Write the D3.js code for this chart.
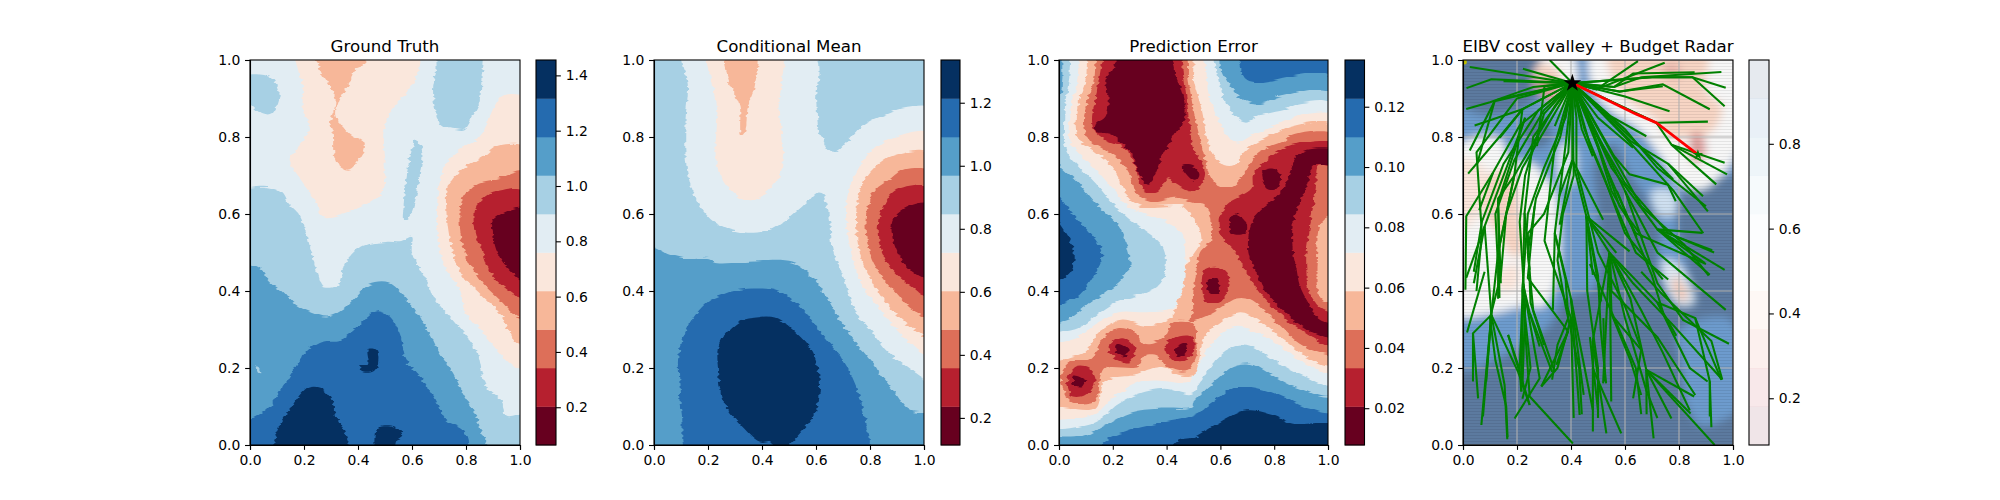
<!DOCTYPE html>
<head>
<meta charset="utf-8">
<style>
html, body { margin: 0; padding: 0; background: #fff; }
svg { display: block; }
text { font-family: "DejaVu Sans", sans-serif; fill: #000; }
.tick text { font-size: 13.9px; }
.title { font-size: 16.67px; text-anchor: middle; }
.domain { stroke-width: 1.1px; }
.tick line { stroke-width: 1.1px; }
</style>
</head>
<body>
<script src="https://d3js.org/d3.v7.min.js"></script>
<script>
// ---- data: each entry is [colour band, outline in axis units], painted in order
var unitTicks = [0, 0.2, 0.4, 0.6, 0.8, 1.0];

var truthBase = 5;
var truthBands = [
  [6, [[0,.655],[.11,.66],[.14,.63],[.18,.6],[.2,.57],[.22,.52],[.24,.47],[.25,.44],[.27,.41],[.32,.41],[.35,.47],[.37,.49],[.42,.52],[.5,.53],[.56,.53],[.6,.54],[.6,.5],[.66,.42],[.678,.386],[.75,.325],[.838,.247],[.875,.152],[.93,.117],[.95,.074],[1,.078],[1,0],[0,0]]],
  [6, [[.616,.794],[.638,.759],[.628,.698],[.616,.646],[.591,.594],[.569,.585],[.569,.62],[.579,.69],[.591,.742]]],
  [6, [[.7,1],[.857,1],[.857,.95],[.85,.89],[.826,.855],[.795,.82],[.764,.82],[.709,.829],[.688,.863],[.678,.924],[.69,.975]]],
  [6, [[0,.958],[.073,.958],[.11,.91],[.08,.859],[.048,.859],[0,.915]]],
  [7, [[0,.46],[.03,.46],[.073,.425],[.122,.399],[.17,.364],[.233,.343],[.289,.334],[.344,.352],[.393,.386],[.443,.416],[.517,.42],[.566,.39],[.616,.343],[.665,.291],[.702,.239],[.752,.187],[.789,.135],[.826,.092],[.863,.022],[.879,0],[0,0]]],
  [6, [[.024,.21],[.042,.19],[.03,.19]]],
  [8, [[0,.056],[.023,.074],[.073,.1],[.122,.152],[.17,.204],[.215,.247],[.27,.269],[.332,.273],[.394,.304],[.468,.347],[.517,.334],[.554,.291],[.579,.221],[.628,.178],[.678,.126],[.727,.065],[.789,.039],[.801,0],[0,0]]],
  [9, [[.091,0],[.11,.048],[.147,.091],[.184,.13],[.215,.149],[.258,.149],[.295,.126],[.32,.074],[.357,.022],[.369,0]]],
  [9, [[.468,.035],[.48,.048],[.536,.048],[.564,.026],[.542,.011],[.53,0],[.474,0]]],
  [9, [[.437,.25],[.468,.25],[.474,.212],[.456,.191],[.412,.191],[.406,.208],[.437,.212]]],
  [4, [[.172,1],[.622,1],[.622,.967],[.579,.915],[.517,.863],[.493,.803],[.499,.716],[.486,.655],[.443,.629],[.357,.603],[.27,.594],[.246,.629],[.196,.681],[.147,.742],[.172,.768],[.209,.803],[.221,.829],[.196,.872],[.196,.933],[.178,.975]]],
  [3, [[.246,1],[.431,1],[.425,.988],[.388,.975],[.369,.94],[.332,.898],[.32,.855],[.369,.807],[.419,.785],[.419,.763],[.394,.733],[.369,.716],[.338,.72],[.315,.75],[.309,.81],[.295,.828],[.32,.889],[.295,.933],[.259,.975]]],
  [4, [[1,.894],[.938,.908],[.9,.872],[.875,.829],[.838,.794],[.764,.759],[.72,.724],[.696,.646],[.696,.542],[.72,.464],[.777,.403],[.801,.343],[.863,.291],[.925,.239],[.987,.2],[1,.2]]],
  [3, [[1,.768],[.925,.778],[.863,.75],[.789,.716],[.733,.672],[.727,.612],[.752,.499],[.789,.438],[.863,.386],[.925,.343],[.987,.265],[1,.26]]],
  [2, [[1,.707],[.912,.69],[.851,.681],[.801,.655],[.777,.612],[.789,.516],[.814,.473],[.863,.42],[.925,.377],[.987,.334],[1,.331]]],
  [1, [[1,.657],[.9,.655],[.832,.612],[.832,.568],[.863,.499],[.9,.438],[.962,.399],[1,.373]]],
  [0, [[1,.614],[.9,.585],[.9,.551],[.912,.507],[.949,.464],[1,.422]]]
];

var meanBase = 6;
var meanBands = [
  [5, [[.107,1],[.126,.932],[.117,.846],[.122,.716],[.157,.637],[.219,.581],[.305,.555],[.41,.555],[.49,.585],[.564,.629],[.601,.655],[.626,.65],[.651,.585],[.663,.507],[.7,.438],[.749,.343],[.811,.291],[.873,.239],[.935,.204],[1,.169],[1,.872],[.935,.876],[.86,.859],[.77,.828],[.663,.759],[.614,.811],[.601,.889],[.589,1]]],
  [4, [[.2,1],[.472,1],[.465,.889],[.478,.759],[.465,.698],[.416,.655],[.354,.633],[.293,.655],[.243,.707],[.228,.759],[.233,.846],[.219,.932]]],
  [3, [[.262,1],[.379,1],[.373,.932],[.348,.88],[.336,.811],[.323,.807],[.317,.88],[.28,.941]]],
  [4, [[1,.807],[.898,.802],[.823,.776],[.762,.724],[.719,.655],[.712,.585],[.737,.481],[.774,.412],[.848,.343],[.91,.291],[1,.23]]],
  [3, [[1,.757],[.898,.755],[.836,.733],[.774,.681],[.749,.603],[.762,.499],[.799,.438],[.86,.369],[.935,.317],[1,.282]]],
  [2, [[1,.707],[.928,.716],[.873,.69],[.811,.655],[.784,.585],[.799,.499],[.836,.447],[.898,.395],[.959,.351],[1,.331]]],
  [1, [[1,.666],[.898,.663],[.848,.62],[.83,.577],[.836,.516],[.873,.464],[.935,.421],[1,.382]]],
  [0, [[1,.624],[.947,.62],[.885,.585],[.885,.533],[.91,.49],[.947,.455],[1,.431]]],
  [7, [[0,.516],[.058,.494],[.107,.486],[.212,.484],[.225,.474],[.509,.474],[.589,.434],[.638,.386],[.688,.325],[.749,.265],[.811,.212],[.885,.143],[.947,.091],[1,.078],[1,0],[0,0]]],
  [8, [[.126,0],[.105,.065],[.095,.152],[.095,.239],[.126,.308],[.194,.369],[.256,.39],[.317,.403],[.441,.403],[.502,.382],[.564,.343],[.626,.282],[.7,.221],[.749,.152],[.774,.091],[.786,0]]],
  [9, [[.391,.009],[.317,.056],[.256,.117],[.237,.195],[.243,.265],[.317,.321],[.379,.331],[.447,.331],[.527,.291],[.589,.239],[.614,.169],[.601,.091],[.54,.03],[.453,0],[.428,.009]]]
];

var errorBase = 8;
var errorBands = [
  [9, [[0,.594],[.04,.533],[.058,.499],[.046,.455],[0,.421]]],
  [9, [[.42,0],[.44,.01],[.5,.021],[.599,.06],[.698,.09],[.796,.077],[.87,.055],[1,.051],[1,0]]],
  [7, [[0,1],[.648,1],[.7,.948],[1,.948],[1,.09],[.932,.094],[.846,.12],[.747,.146],[.654,.15],[.574,.111],[.5,.077],[.37,.055],[.284,.042],[.173,.012],[.123,0],[0,0],[0,.34],[.074,.388],[.136,.448],[.16,.5],[0,.689]]],
  [6, [[.031,1],[.586,1],[.605,.974],[.642,.927],[.698,.892],[.753,.888],[.821,.905],[1,.909],[1,.133],[.895,.146],[.796,.18],[.71,.211],[.636,.202],[.605,.18],[.549,.146],[.5,.111],[.494,.098],[.37,.094],[.272,.085],[.173,.051],[.086,.021],[0,.03],[0,.301],[.049,.332],[.111,.366],[.173,.396],[.235,.431],[.265,.466],[.259,.5],[.222,.568],[.148,.62],[.074,.68],[0,.758],[0,.88],[.006,.914],[.012,.948]]],
  [5, [[.062,1],[.556,1],[.599,.931],[.636,.87],[.691,.84],[.747,.857],[.833,.87],[.907,.888],[1,.879],[1,.159],[.907,.18],[.809,.215],[.71,.258],[.66,.258],[.586,.224],[.525,.163],[.494,.133],[.395,.146],[.296,.133],[.21,.103],[.148,.064],[.074,.047],[0,.051],[0,.28],[.074,.306],[.136,.336],[.21,.37],[.309,.392],[.37,.414],[.395,.457],[.393,.5],[.37,.529],[.278,.577],[.204,.624],[.136,.68],[.074,.724],[.025,.767],[.019,.836],[.025,.896],[.037,.948]]],
  [4, [[.093,1],[.519,1],[.556,.914],[.586,.853],[.623,.81],[.66,.786],[.722,.806],[.784,.823],[.852,.845],[.92,.862],[1,.853],[1,.19],[.932,.206],[.833,.25],[.722,.297],[.648,.306],[.562,.258],[.52,.21],[.48,.165],[.395,.168],[.321,.168],[.21,.129],[.136,.081],[.062,.068],[0,.072],[0,.25],[.074,.284],[.148,.319],[.222,.345],[.321,.345],[.42,.353],[.457,.396],[.469,.448],[.469,.5],[.457,.551],[.383,.585],[.265,.616],[.216,.65],[.16,.698],[.099,.741],[.043,.784],[.037,.836],[.049,.896],[.068,.948]]],
  [3, [[.123,1],[.486,1],[.5,.948],[.531,.87],[.549,.801],[.574,.75],[.617,.725],[.654,.725],[.679,.754],[.722,.78],[.796,.806],[.846,.823],[1,.827],[1,.211],[.932,.224],[.846,.267],[.735,.327],[.673,.345],[.586,.314],[.537,.275],[.52,.22],[.5,.18],[.444,.18],[.383,.202],[.321,.193],[.296,.185],[.173,.168],[.136,.094],[.037,.094],[0,.11],[0,.206],[.025,.224],[.099,.245],[.148,.293],[.235,.323],[.333,.31],[.426,.336],[.436,.36],[.461,.403],[.473,.464],[.529,.533],[.51,.577],[.461,.62],[.407,.62],[.309,.62],[.253,.646],[.222,.693],[.185,.732],[.123,.767],[.074,.793],[.062,.836],[.074,.896],[.099,.948]]],
  [2, [[.154,1],[.463,1],[.481,.948],[.5,.87],[.525,.793],[.543,.741],[.562,.698],[.593,.672],[.63,.668],[.66,.68],[.698,.715],[.728,.75],[.772,.771],[.833,.788],[.87,.806],[1,.806],[1,.616],[.97,.57],[.96,.5],[.96,.41],[.975,.38],[1,.36],[1,.237],[.907,.258],[.809,.319],[.71,.379],[.66,.383],[.574,.345],[.486,.321],[.498,.343],[.498,.386],[.51,.447],[.523,.499],[.566,.533],[.566,.568],[.545,.62],[.5,.629],[.432,.642],[.346,.633],[.284,.655],[.265,.698],[.222,.741],[.16,.771],[.111,.793],[.093,.836],[.105,.896],[.13,.948]]],
  [2, [[.51,.27],[.5,.315],[.426,.319],[.383,.275],[.315,.263],[.278,.297],[.222,.306],[.167,.28],[.117,.224],[.043,.215],[.006,.18],[.019,.142],[.049,.113],[.136,.116],[.154,.18],[.173,.202],[.296,.206],[.315,.232],[.364,.232],[.401,.202],[.475,.193],[.51,.23]]],
  [1, [[.185,1],[.148,.948],[.136,.896],[.123,.853],[.13,.819],[.173,.793],[.235,.775],[.278,.732],[.302,.68],[.321,.659],[.37,.659],[.407,.693],[.432,.68],[.5,.659],[.531,.68],[.543,.706],[.525,.741],[.5,.767],[.494,.784],[.475,.896],[.463,.957],[.438,1]]],
  [1, [[1,.786],[.87,.78],[.796,.754],[.759,.732],[.722,.702],[.716,.667],[.636,.633],[.611,.616],[.593,.577],[.611,.534],[.654,.5],[.704,.44],[.753,.388],[.809,.349],[.895,.301],[1,.256],[1,.332],[.963,.362],[.926,.405],[.92,.448],[.92,.5],[.932,.56],[.944,.62],[.957,.68],[.963,.725],[1,.72]]],
  [1, [[.531,.422],[.543,.457],[.586,.465],[.63,.44],[.63,.405],[.593,.37],[.549,.37]]],
  [1, [[.031,.172],[.062,.202],[.111,.198],[.136,.168],[.099,.129],[.049,.129]]],
  [1, [[.185,.254],[.235,.28],[.284,.25],[.259,.215],[.204,.228]]],
  [1, [[.395,.25],[.432,.28],[.494,.284],[.5,.241],[.444,.215]]],
  [0, [[.235,1],[.401,1],[.432,.965],[.457,.914],[.469,.853],[.42,.797],[.383,.75],[.358,.706],[.333,.676],[.302,.698],[.265,.758],[.198,.806],[.136,.814],[.136,.832],[.173,.853],[.185,.896],[.173,.948],[.204,.978]]],
  [0, [[.883,.75],[.92,.767],[1,.763],[1,.728],[.944,.724],[.926,.68],[.895,.629],[.87,.577],[.87,.5],[.883,.457],[.895,.414],[.926,.37],[.969,.327],[1,.306],[1,.274],[.957,.288],[.883,.319],[.821,.358],[.759,.405],[.735,.448],[.704,.5],[.722,.585],[.821,.654],[.858,.706]]],
  [0, [[.753,.706],[.796,.715],[.821,.698],[.809,.668],[.772,.668]]],
  [0, [[.63,.577],[.654,.601],[.698,.573],[.691,.547],[.648,.547]]],
  [0, [[.556,.427],[.586,.433],[.596,.396],[.562,.396],[.549,.414]]],
  [0, [[.457,.724],[.5,.724],[.522,.703],[.512,.688],[.5,.687],[.475,.702]]],
  [0, [[.056,.18],[.099,.168],[.086,.15],[.056,.155]]],
  [0, [[.216,.263],[.259,.245],[.241,.228],[.21,.245]]],
  [0, [[.432,.25],[.469,.263],[.475,.245],[.444,.228]]]
];

// cost valley background, soft patches over a dark slate ground
var valleyGround = "#5c7a9f";
var valleyPatches = [
  ["#6d9bcd", [[0,.2],[.12,.22],[.22,.26],[.32,.31],[.38,.38],[.49,.41],[.5,.6],[.49,.74],[.56,.78],[.62,.7],[.68,.64],[.73,.56],[.72,.48],[.78,.37],[.84,.38],[.82,.5],[.79,.58],[.82,.66],[.9,.69],[1,.71],[1,1],[0,1]]],
  ["#6d9bcd", [[.8,.3],[.98,.33],[1,.27],[1,.1],[.95,.06],[.88,.05],[.83,.1],[.81,.2]]],
  ["#5c7a9f", [[0,1],[.27,1],[.3,.94],[.24,.88],[.15,.86],[.05,.86],[0,.9]]],
  ["#5c7a9f", [[.24,.85],[.3,.85],[.33,.8],[.28,.77],[.22,.8]]],
  ["#f7f7f7", [[0,.77],[.13,.8],[.18,.74],[.26,.73],[.3,.7],[.34,.66],[.36,.56],[.35,.44],[.3,.36],[.22,.36],[.1,.34],[0,.34]]],
  ["#f7f7f7", [[.48,1],[1,1],[1,.79],[.96,.7],[.88,.66],[.8,.68],[.74,.74],[.65,.82],[.56,.86],[.5,.9],[.47,.95]]],
  ["#f7f7f7", [[.3,1],[.4,1],[.42,.93],[.36,.88],[.3,.9]]],
  ["#dbe7f2", [[.36,.78],[.41,.78],[.41,.68],[.36,.68]]],
  ["#cfe0f0", [[.7,.66],[.78,.66],[.79,.6],[.72,.6]]],
  ["#dbe7f2", [[.74,.48],[.8,.47],[.86,.37],[.8,.36],[.74,.43]]],
  ["#f7d5c4", [[.54,1],[.9,1],[.9,.92],[.96,.88],[.93,.82],[.88,.8],[.82,.8],[.76,.8],[.72,.84],[.66,.87],[.6,.9],[.56,.94]]],
  ["#f7d5c4", [[.07,.66],[.1,.7],[.16,.72],[.2,.68],[.21,.6],[.22,.5],[.18,.49],[.13,.55],[.09,.58]]],
  ["#fbe6dc", [[0,.74],[.08,.72],[.06,.6],[0,.55]]],
  ["#fbe6dc", [[.13,.45],[.2,.47],[.2,.41],[.14,.4]]],
  ["#f7d5c4", [[.28,.99],[.36,.97],[.34,.9],[.28,.92],[.26,.95]]],
  ["#dd9e9c", [[.28,.95],[.33,.95],[.36,.9],[.32,.89],[.28,.92]]],
  ["#dd9e9c", [[.85,.81],[.88,.81],[.9,.76],[.86,.73],[.84,.76]]],
  ["#eab7ad", [[.75,.99],[.8,.99],[.8,.95],[.74,.96]]],
  ["#f3c9b8", [[.78,.44],[.83,.4],[.82,.37],[.78,.4]]]
];

var start = [.405, .94];
var goal = [.87, .754];
var chosenRoute = [start, [.64,.86], [.716,.837], goal];
var n1 = [.494,.924], n2 = [.56,.93], n3 = [.58,.918], n4 = [.7,.955], n5 = [.85,.955];
var n6 = [.716,.837], n7 = [.772,.78], n8 = [.76,.73], n9 = [.72,.56], n10 = [.6,.66];
var t1 = [.405,.74], t2 = [.457,.594], t3 = [.543,.499], t4 = [.679,.195], t5 = [.72,.37], t6 = [.86,.33];
var l1 = [.22,.872], l2 = [.19,.7], l3 = [.111,.707], l4 = [.012,.594], l5 = [.08,.568], l6 = [.105,.338], l7 = [.037,.29];
var m1 = [.228,.603], m2 = [.222,.42], m3 = [.24,.434], m4 = [.389,.295], m5 = [.247,.343];
var c1 = [.34,.55], c2 = [.4,.38], c3 = [.302,.53], c4 = [.4,.33];
var treeRoutes = [
  [start,n1,[.648,.997]], [start,n1,[.747,.993]], [start,n2,[.63,.965],[.858,.968]], [start,n2,[.66,.955],[.957,.969]],
  [start,n3,[.74,.937],[.914,.872]], [start,[.6,.905],[.765,.867]], [start,n3,[.74,.932]], [start,n4,n5,[.973,.928]], [start,n4,n5,[.969,.88]],
  [start,[.545,.855],[.679,.802]], [start,[.5,.85],[.63,.772]], [start,[.44,.82],[.481,.75]],
  [start,n6,[.907,.84]], [start,n6,n7,[.969,.733]], [n7,[.978,.703]], [n7,[.938,.677]],
  [start,[.62,.79],n8,[.889,.646]], [n8,[.907,.607]], [start,[.65,.78],[.778,.69]],
  [start,[.56,.75],[.617,.703],[.759,.676],[.788,.633]],
  [start,[.55,.72],n9,[.969,.455]], [n9,[.923,.506]], [n9,[.914,.442]], [n9,[.895,.473]], [n9,[.886,.551]],
  [start,n10,[.72,.5],[.973,.351]], [n10,[.72,.42],[.815,.325],[.985,.263]],
  [start,[.5,.78],[.58,.62],[.667,.538]], [start,[.53,.72],[.643,.54]], [[.57,.66],[.7,.44],[.741,.344]],
  [start,t1,t2,[.617,.503]], [t2,[.568,.499]], [t2,[.481,.442]], [t2,[.512,.373]], [t2,t3],
  [t1,[.519,.585]], [t1,[.358,.572]], [t1,[.356,.646]],
  [t3,[.481,.273],[.481,.035]], [t3,[.519,.16]], [t3,[.549,.113]], [t3,t5,[.79,.284]], [t3,[.62,.38],t4],
  [t4,[.706,.017]], [t4,[.772,.069]], [t4,[.843,.082]], [t4,[.856,.126]], [t4,[.68,.08]], [t4,[.932,0]],
  [t5,t6,[.957,.169]], [t6,[.914,.165],[.914,.074]], [[.914,.165],[.92,.046]], [t5,[.84,.2],[.906,.165]],
  [start,[.38,.78],c1,c2,[.447,.13]], [c1,[.333,.351]], [c2,[.432,.078]], [c2,[.481,.091]],
  [start,[.34,.78],c3,c4,[.35,.2],[.29,.152]], [c4,[.41,.07]],
  [[.52,.33],[.525,.165]], [[.47,.47],[.56,.33],[.66,.247],[.63,.121]], [[.56,.33],[.64,.2],[.66,.08]], [[.48,.27],[.531,.03]], [[.48,.2],[.586,.03]], [[.47,.28],[.5,.09]],
  [start,l1,l2,[.13,.64],[.135,.382]], [l2,[.13,.5],l6], [l1,[.148,.811],[.019,.705]],
  [start,[.21,.83],l3,l4,[.009,.403]], [l3,[.06,.61]],
  [[.23,.85],[.13,.63],[.14,.42]], [[.23,.85],l5,[.012,.434]], [l5,[.04,.42]], [l5,l6], [[.08,.45],[.015,.292]],
  [l6,l7,[.056,.121]], [l7,[.037,.165]], [l6,[.086,.165]], [l6,[.068,.052]], [l6,[.074,.074]], [l6,[.154,.156],[.164,.015]], [l6,[.204,.19],[.247,.104]],
  [start,[.26,.8],m1,m2], [m1,[.247,.455]], [[.265,.62],m3,m4,[.346,.208]], [m2,m5,[.284,.256]], [m5,[.33,.19]], [m4,[.29,.152]], [m2,[.216,.139]], [m2,[.21,.195]],
  [[.167,.286],[.21,.195],[.216,.139]], [[.167,.286],[.247,.104]], [m2,[.284,.173],[.191,.069]], [[.222,.38],[.247,.126],[.407,.004]],
  [start,[.105,.95],[.013,.927]], [start,[.025,.982]], [start,[.222,.977]], [start,[.321,1]], [start,[.15,.945]],
  [start,[.26,.93],[.1,.89],[.012,.873]], [start,[.128,.897]], [start,l1,[.043,.83]], [l1,[.136,.798]],
  [start,[.117,.893],[.025,.765]], [[.117,.893],[.052,.729]], [start,[.302,.932],[.274,.776]], [start,[.34,.828]],
  // second pass over the denser parts of the fan
  [start,[.5,.8],[.6,.68],[.76,.55],[.93,.5]], [start,[.48,.82],[.55,.66],[.64,.55],[.9,.47]], [start,[.47,.78],[.56,.63],[.64,.5],[.76,.43]],
  [start,[.45,.82],[.52,.7],[.6,.55],[.74,.43]], [start,[.5,.82],[.66,.62],[.82,.52],[.91,.44]], [start,[.6,.82],[.72,.72],[.9,.62]], [start,[.6,.8],[.78,.66],[.89,.55]],
  [start,[.42,.85],[.42,.72],[.5,.5],[.6,.36],[.66,.25]], [t2,[.5,.44],[.51,.3],[.53,.16]], [t2,[.46,.4],[.5,.2],[.5,.07]],
  [t3,[.6,.33],[.68,.14],[.72,.07]], [t3,[.55,.34],[.62,.22],[.66,.13]], [t3,[.55,.4],[.72,.28],[.86,.13]], [t3,[.66,.35],[.74,.24],[.84,.09]], [t3,[.63,.42],[.78,.31],[.96,.17]], [[.66,.45],[.74,.39],[.92,.27],[.96,.17]],
  [start,[.41,.7],[.37,.6],[.35,.48],[.38,.36],[.43,.2],[.44,.08]], [start,[.39,.76],[.3,.6],[.24,.55],[.25,.37],[.3,.26]], [start,[.36,.8],[.27,.64],[.24,.5],[.26,.35],[.34,.19]],
  [start,[.33,.85],[.22,.72],[.16,.6],[.14,.44],[.1,.33]], [start,[.3,.87],[.19,.74],[.12,.6],[.13,.46]], [start,[.28,.87],[.15,.73],[.07,.58],[.04,.45]], [start,[.2,.9],[.05,.76],[.07,.55],[.05,.4]],
  [start,[.38,.85],[.3,.72],[.24,.6],[.22,.4],[.25,.2],[.22,.12]], [start,[.34,.88],[.19,.7],[.13,.5],[.13,.38]], [start,[.3,.86],[.23,.7],[.21,.58],[.23,.36],[.22,.15]],
  [[.34,.55],[.38,.43],[.39,.33],[.35,.26],[.33,.17]], [[.1,.33],[.12,.22],[.16,.1],[.165,.02]]
];

var columns = [
  {left: 250, right: 520, barLeft: 536, barRight: 556, title: "Ground Truth", bar: [0.0635, 1.4556], ticks: [.2,.4,.6,.8,1,1.2,1.4], fmt: ".1f", base: truthBase, bands: truthBands},
  {left: 654, right: 924, barLeft: 941, barRight: 960, title: "Conditional Mean", bar: [0.114, 1.3356], ticks: [.2,.4,.6,.8,1,1.2], fmt: ".1f", base: meanBase, bands: meanBands},
  {left: 1059, right: 1328, barLeft: 1345, barRight: 1364.5, title: "Prediction Error", bar: [0.0078, 0.1355], ticks: [.02,.04,.06,.08,.1,.12], fmt: ".2f", base: errorBase, bands: errorBands},
  {left: 1463, right: 1733, barLeft: 1749, barRight: 1769, title: "EIBV cost valley + Budget Radar", bar: [0.0898, 0.9976], ticks: [.2,.4,.6,.8], fmt: ".1f", barAlpha: 0.1}
];

// ---- drawing
var yTop = 60, yBottom = 445;
var svg = d3.select("body").append("svg").attr("width", 2000).attr("height", 500);
var defs = svg.append("defs");

var rdbu = d3.piecewise(d3.interpolateRgb, ["#67001f","#b2182b","#d6604d","#f4a582","#fddbc7","#f7f7f7","#d1e5f0","#92c5de","#4393c3","#2166ac","#053061"]);
var bandColour = function(i) { return rdbu(i / 9); };

var stripes = defs.append("pattern").attr("id", "rows").attr("width", 3).attr("height", 3).attr("patternUnits", "userSpaceOnUse");
stripes.append("rect").attr("width", 3).attr("height", 1).attr("fill", "#000").attr("opacity", 0.08);

defs.append("filter").attr("id", "soft").attr("x", "-10%").attr("y", "-10%").attr("width", "120%").attr("height", "120%")
  .append("feGaussianBlur").attr("stdDeviation", 4);

// the original contours have toothed edges, a row-wise wobble gets close to that
var teeth = defs.append("filter").attr("id", "teeth").attr("x", "-5%").attr("y", "-5%").attr("width", "110%").attr("height", "110%")
  .attr("color-interpolation-filters", "sRGB");
teeth.append("feTurbulence").attr("type", "fractalNoise").attr("baseFrequency", "0.02 0.33").attr("numOctaves", 1).attr("seed", 4).attr("result", "noise");
teeth.append("feDisplacementMap").attr("in", "SourceGraphic").attr("in2", "noise").attr("scale", 7)
  .attr("xChannelSelector", "R").attr("yChannelSelector", "G");

columns.forEach(function(col, k) {
  var x = d3.scaleLinear().domain([0, 1]).range([col.left, col.right]);
  var y = d3.scaleLinear().domain([0, 1]).range([yBottom, yTop]);
  var outline = d3.line().x(function(d) { return x(d[0]); }).y(function(d) { return y(d[1]); });
  // closed smooth outline, points on the frame pushed a little past it so the wobble shows no gap
  var over = function(t) { return t <= 0 ? -8 : t >= 1 ? 8 : 0; };
  var smooth = d3.line()
    .x(function(d) { return x(d[0]) + over(d[0]); })
    .y(function(d) { return y(d[1]) - over(d[1]); })
    .curve(d3.curveCatmullRomClosed.alpha(0.5));
  var w = col.right - col.left, h = yBottom - yTop;

  defs.append("clipPath").attr("id", "clip" + k).append("rect").attr("x", col.left).attr("y", yTop).attr("width", w).attr("height", h);
  var g = svg.append("g").attr("clip-path", "url(#clip" + k + ")");

  if (col.bands) {
    g.append("rect").attr("x", col.left).attr("y", yTop).attr("width", w).attr("height", h).attr("fill", bandColour(col.base));
    g.append("g").attr("filter", "url(#teeth)")
      .selectAll("path.band").data(col.bands).enter().append("path")
      .attr("class", "band")
      .attr("d", smooth)
      .attr("d", function(d) { return smooth(d[1]); })
      .attr("fill", function(d) { return bandColour(d[0]); });
  } else {
    g.append("rect").attr("x", col.left).attr("y", yTop).attr("width", w).attr("height", h).attr("fill", valleyGround);
    var soft = g.append("g").attr("filter", "url(#soft)");
    soft.selectAll("path").data(valleyPatches).enter().append("path")
      .attr("d", function(d) { return smooth(d[1]); })
      .attr("fill", function(d) { return d[0]; });
    g.append("rect").attr("x", col.left).attr("y", yTop).attr("width", w).attr("height", h).attr("fill", "url(#rows)");

    var grid = g.append("g").attr("stroke", "#b0b0b0").attr("stroke-width", 1.1);
    unitTicks.forEach(function(t) {
      grid.append("line").attr("x1", x(t)).attr("x2", x(t)).attr("y1", yTop).attr("y2", yBottom);
      grid.append("line").attr("x1", col.left).attr("x2", col.right).attr("y1", y(t)).attr("y2", y(t));
    });

    g.selectAll("path.route").data(treeRoutes).enter().append("path")
      .attr("class", "route")
      .attr("d", outline)
      .attr("fill", "none").attr("stroke", "#008000").attr("stroke-width", 2.08);
    g.append("path").datum(chosenRoute).attr("d", outline)
      .attr("fill", "none").attr("stroke", "#ff0000").attr("stroke-width", 2.78);
    g.append("path").attr("d", d3.symbol(d3.symbolStar, 34)())
      .attr("transform", "translate(" + x(goal[0]) + "," + y(goal[1]) + ")").attr("fill", "#008000");
    g.append("path").attr("d", d3.symbol(d3.symbolStar, 100)())
      .attr("transform", "translate(" + x(start[0]) + "," + y(start[1]) + ")").attr("fill", "#000");
    g.append("circle").attr("cx", x(0.005)).attr("cy", y(0.995)).attr("r", 2.5).attr("fill", "#bfbf00");
  }

  svg.append("rect").attr("x", col.left).attr("y", yTop).attr("width", w).attr("height", h)
    .attr("fill", "none").attr("stroke", "#000").attr("stroke-width", 1.1);

  svg.append("g").attr("transform", "translate(0," + yBottom + ")")
    .call(d3.axisBottom(x).tickValues(unitTicks).tickFormat(d3.format(".1f")).tickSize(4.86).tickPadding(4.86));
  svg.append("g").attr("transform", "translate(" + col.left + ",0)")
    .call(d3.axisLeft(y).tickValues(unitTicks).tickFormat(d3.format(".1f")).tickSize(4.86).tickPadding(4.86));

  svg.append("text").attr("class", "title").attr("x", (col.left + col.right) / 2).attr("y", 52).text(col.title);

  // colour bar, ten equal bands
  var by = d3.scaleLinear().domain(col.bar).range([yBottom, yTop]);
  var step = (col.bar[1] - col.bar[0]) / 10;
  svg.selectAll("rect.b" + k).data(d3.range(10)).enter().append("rect")
    .attr("class", "b" + k)
    .attr("x", col.barLeft).attr("width", col.barRight - col.barLeft)
    .attr("y", function(i) { return by(col.bar[0] + (i + 1) * step); })
    .attr("height", h / 10 + 0.3)
    .attr("fill", function(i) { return bandColour(i); })
    .attr("fill-opacity", col.barAlpha || 1);
  svg.append("rect").attr("x", col.barLeft).attr("y", yTop).attr("width", col.barRight - col.barLeft).attr("height", h)
    .attr("fill", "none").attr("stroke", "#000").attr("stroke-width", 1.1);
  svg.append("g").attr("transform", "translate(" + col.barRight + ",0)")
    .call(d3.axisRight(by).tickValues(col.ticks).tickFormat(d3.format(col.fmt)).tickSize(4.86).tickPadding(4.86))
    .select(".domain").remove();
});
</script>
</body>
